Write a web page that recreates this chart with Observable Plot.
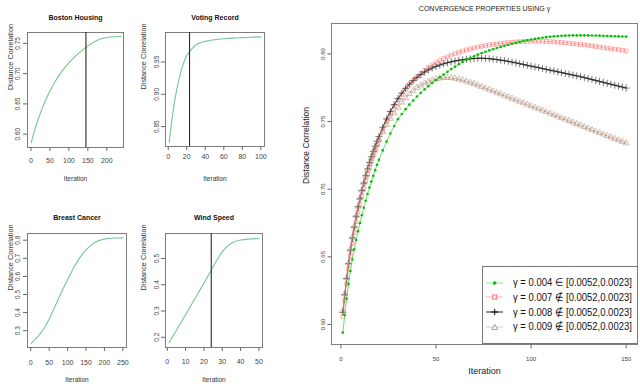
<!DOCTYPE html>
<html><head><meta charset="utf-8">
<script src="https://cdn.jsdelivr.net/npm/d3@7"></script>
<script src="https://cdn.jsdelivr.net/npm/@observablehq/plot@0.6"></script>
<style>
body{margin:0;background:#fff;}
#root{position:relative;width:640px;height:387px;overflow:hidden;font-family:"Liberation Sans",Arial,sans-serif;}
.panel{position:absolute;}
#legend{position:absolute;left:482px;top:266px;width:156px;height:78px;border:1px solid #777;background:#fff;box-sizing:border-box;}
.row{position:absolute;left:1px;height:14px;display:flex;align-items:center;}
.row svg{display:block;}
.row span{font-size:11px;white-space:nowrap;transform:scaleX(.86);transform-origin:left center;color:#111;margin-left:3.5px;}
</style></head><body><div id="root"></div>
<script>
// ---------- small panels ----------
const panelTitles = ["Boston Housing", "Voting Record", "Breast Cancer", "Wind Speed"];
const markedIteration = [145, 23, null, 24];

const bostonIter = [1,10,20,30,40,50,60,70,80,90,100,110,120,130,140,150,160,170,180,190,200,210,220,230,238];
const bostonCorr = [.586,.607,.626,.643,.658,.671,.683,.693,.7025,.7105,.718,.7245,.7305,.736,.741,.7455,.7498,.7535,.7564,.7585,.7598,.7606,.7611,.7613,.7614];

const votingIter = [1,2,3,4,5,6,7,8,9,10,12,14,16,18,20,22,24,26,28,30,35,40,50,60,70,80,90,100];
const votingCorr = [.8255,.838,.850,.861,.871,.881,.890,.898,.906,.913,.926,.937,.946,.954,.960,.964,.968,.971,.974,.9765,.980,.982,.9845,.986,.987,.9877,.9884,.989];

const cancerIter = [1,10,20,30,40,50,60,70,80,90,100,110,120,130,140,150,160,170,180,190,200,210,220,230,240,250];
const cancerCorr = [.229,.248,.270,.295,.327,.365,.408,.453,.498,.541,.582,.622,.660,.694,.722,.746,.766,.782,.794,.801,.806,.809,.811,.812,.8125,.813];

const windIter = [1,4,8,12,16,20,24,27,30,33,36,40,45,50];
const windCorr = [.180,.215,.262,.310,.358,.406,.455,.492,.525,.548,.562,.570,.574,.576];

const xTicksSmall = [[0,50,100,150,200],[0,20,40,60,80,100],[0,50,100,150,200,250],[0,10,20,30,40,50]];
const yTicksSmall = [[.60,.65,.70,.75],[.85,.90,.95],[.3,.4,.5,.6,.7,.8],[.2,.3,.4,.5]];

// ---------- big panel ----------
const bigIterations = [1,2,3,4,5,6,7,8,9,10,11,12,13,14,15,16,17,18,19,20,22,24,26,28,30,32,34,36,38,40,42,44,46,48,50,52,54,56,58,60,62,64,66,68,70,72,74,76,78,80,82,84,86,88,90,92,94,96,98,100,102,104,106,108,110,112,114,116,118,120,122,124,126,128,130,132,134,136,138,140,142,144,146,148,150];
const gamma004 = [.594,.607,.619,.630,.6395,.648,.6555,.6625,.669,.675,.6808,.6863,.6915,.6965,.7012,.7057,.710,.7141,.718,.7217,
 .7287,.7352,.7412,.7467,.7518,.7556,.7592,.7625,.7656,.7685,
 .7712,.7738,.7762,.7785,.7807,.7828,.7848,.7868,.7888,.7906,
 .7924,.7941,.7956,.797,.7983,.7995,.8006,.8016,.8026,.8035,
 .8044,.8052,.806,.8068,.8075,.8082,.8089,.8095,.8101,.8106,
 .8111,.8116,.812,.8124,.8127,.813,.8132,.8134,.8135,.8136,
 .8137,.8137,.8137,.8137,.8137,.8136,.8136,.8135,.8134,.8133,
 .8132,.8131,.813,.8129,.8128];
const gamma007 = [.606,.618,.630,.641,.651,.660,.668,.676,.683,.689,.695,.7005,.706,.711,.7158,.7203,.7246,.7287,.7326,.7363,
 .7435,.7502,.7562,.7616,.766,.7702,.774,.7774,.7804,.7831,
 .7856,.7879,.79,.7919,.7936,.7952,.7966,.7979,.7991,.8002,
 .8012,.8021,.8029,.8037,.8044,.805,.8056,.8061,.8066,.807,
 .8074,.8077,.8081,.8084,.8086,.8088,.809,.8092,.8093,.8094,
 .8095,.8095,.8094,.8093,.8091,.8089,.8087,.8085,.8082,.8079,
 .8076,.8073,.807,.8067,.8063,.8059,.8055,.8051,.8047,.8043,
 .8039,.8035,.8031,.8027,.8023];
const gamma008 = [.609,.622,.634,.645,.655,.664,.672,.680,.687,.693,.699,.7045,.710,.715,.7197,.724,.728,.7318,.7355,.739,
 .7458,.752,.7575,.7625,.767,.771,.7745,.7776,.7803,.7827,
 .7848,.7866,.7882,.7896,.7908,.7918,.7927,.7935,.7942,.7948,
 .7953,.7957,.7961,.7964,.7966,.7968,.7968,.7967,.7965,.7962,
 .7958,.7954,.795,.7945,.794,.7934,.7928,.7922,.7916,.791,
 .7904,.7898,.7892,.7886,.788,.7874,.7868,.7862,.7856,.785,
 .7844,.7838,.7832,.7825,.7818,.7811,.7804,.7797,.779,.7783,
 .7776,.7769,.7762,.7755,.7748];
const gamma009 = [.610,.6225,.6345,.6455,.6555,.6645,.6725,.6802,.6872,.6935,.6992,.7045,.7095,.7142,.7186,.7227,.7265,.7301,.7335,.7366,
 .7424,.7476,.7522,.7563,.7605,.7642,.7675,.7704,.7729,.775,
 .7768,.7783,.7796,.7806,.7814,.782,.7824,.7825,.7823,.7819,
 .7813,.7806,.7798,.7789,.778,.7769,.7758,.7747,.7736,.7725,
 .7714,.7703,.7692,.7681,.767,.7659,.7648,.7637,.7626,.7615,
 .7604,.7593,.7582,.7571,.756,.7549,.7538,.7527,.7516,.7505,
 .7494,.7483,.7472,.7461,.745,.7439,.7428,.7417,.7406,.7395,
 .7384,.7373,.7362,.7351,.734];
const bigXTicks = [0,50,100,150];
const bigYTicks = [.60,.65,.70,.75,.80];
const seriesLabels = ["γ = 0.004 ∈ [0.0052,0.0023]","γ = 0.007 ∉ [0.0052,0.0023]","γ = 0.008 ∉ [0.0052,0.0023]","γ = 0.009 ∉ [0.0052,0.0023]"];

const root = document.getElementById("root");
const FONT = '"Liberation Sans", Arial, sans-serif';
const toRows = (xs, ys) => xs.map((x, i) => ({x, y: ys[i]}));

function place(el, left, top) {
  const d = document.createElement("div");
  d.className = "panel"; d.style.left = left + "px"; d.style.top = top + "px";
  d.appendChild(el); root.appendChild(d);
}

const smallCfg = [
  {iter: bostonIter, corr: bostonCorr, left: 0, top: 0, w: 140, h: 190, m: [32, 17, 43, 27], xd: [-9, 244], yd: [.578, .768], fmt: ".2f", xpad: 6.5, ylab: 17, xlab: 33, tpad: 4, tdy: -17},
  {iter: votingIter, corr: votingCorr, left: 140, top: 0, w: 135, h: 190, m: [32, 11, 44, 25], xd: [-2.96, 103.96], yd: [.8192, .9957], fmt: ".2f", xpad: 3.5, ylab: 22, xlab: 34, tpad: 3, tdy: -17},
  {iter: cancerIter, corr: cancerCorr, left: 0, top: 190, w: 140, h: 197, m: [43, 14, 40, 27], xd: [-8.96, 259.96], yd: [.207, .837], fmt: ".1f", xpad: 9, ylab: 17, xlab: 34, tpad: 4, tdy: -18},
  {iter: windIter, corr: windCorr, left: 140, top: 190, w: 135, h: 197, m: [43, 13, 40, 25], xd: [-0.96, 51.96], yd: [.161, .595], fmt: ".1f", xpad: 8, ylab: 22, xlab: 34, tpad: 3, tdy: -18}
];

smallCfg.forEach((c, i) => {
  const marks = [
    Plot.frame({stroke: "#707070", strokeWidth: 0.9}),
    Plot.axisX({ticks: xTicksSmall[i], tickSize: 4, tickPadding: c.xpad, fontSize: 7, label: null, stroke: "#666"}),
    Plot.axisY({ticks: yTicksSmall[i], tickFormat: d3.format(c.fmt), tickSize: 4, tickPadding: c.tpad, tickRotate: -90, textAnchor: "middle", lineAnchor: "bottom", fontSize: 6.5, label: null, stroke: "#666"}),
    Plot.line(toRows(c.iter, c.corr), {x: "x", y: "y", stroke: "#74c88e", strokeWidth: 1.1, curve: "monotone-x"}),
    Plot.text([panelTitles[i]], {text: d => d, frameAnchor: "top", dy: c.tdy, fontWeight: "bold", fontSize: 7, fill: "#111"}),
    Plot.text(["Iteration"], {text: d => d, frameAnchor: "bottom", dy: c.xlab, fontSize: 6.5, fill: "#333"}),
    Plot.text(["Distance Correlation"], {text: d => d, frameAnchor: "left", dx: -c.ylab, rotate: -90, fontSize: 7.3, fill: "#333"})
  ];
  if (markedIteration[i] != null) marks.push(Plot.ruleX([markedIteration[i]], {stroke: "#2a2a2a", strokeWidth: 1.1}));
  const p = Plot.plot({
    width: c.w, height: c.h, marginTop: c.m[0], marginRight: c.m[1], marginBottom: c.m[2], marginLeft: c.m[3],
    x: {domain: c.xd}, y: {domain: c.yd},
    style: {fontFamily: FONT, color: "#444", background: "transparent", overflow: "visible"},
    marks
  });
  place(p, c.left, c.top);
});

// big panel
const bigStyles = [
  {vals: gamma007, line: "#ff9a9a", stroke: "#ff6464", fill: "none", symbol: "square", r: 2.1, op: 0.6, sw: 0.8},
  {vals: gamma008, line: "#111", stroke: "#222", fill: "none", symbol: "plus", r: 2.4, op: 0.75, sw: 0.8},
  {vals: gamma009, line: "#c6a896", stroke: "#a8846c", fill: "none", symbol: "triangle", r: 2.2, op: 0.65, sw: 0.8},
  {vals: gamma004, line: "#44d844", stroke: "none", fill: "#00c000", symbol: "circle", r: 1.3, op: 1, sw: 0}
];
const bigMarks = [
  Plot.frame({stroke: "#808080", strokeWidth: 1}),
  Plot.axisX({ticks: bigXTicks, tickSize: 4.5, tickPadding: 7.5, fontSize: 6, label: null, stroke: "#666"}),
  Plot.axisY({ticks: bigYTicks, tickFormat: d3.format(".2f"), tickSize: 3.5, tickPadding: 3, tickRotate: -90, textAnchor: "middle", lineAnchor: "bottom", fontSize: 6, label: null, stroke: "#666"})
];
bigStyles.forEach(s => {
  const rows = toRows(bigIterations, s.vals);
  bigMarks.push(Plot.line(rows, {x: "x", y: "y", stroke: s.line, strokeWidth: 0.8}));
  bigMarks.push(Plot.dot(rows, {x: "x", y: "y", symbol: s.symbol, r: s.r, stroke: s.stroke, fill: s.fill, strokeWidth: s.sw, opacity: s.op}));
});
bigMarks.push(
  Plot.text(["CONVERGENCE PROPERTIES USING γ"], {text: d => d, frameAnchor: "top", dy: -17.5, fontSize: 7, fill: "#222"}),
  Plot.text(["Iteration"], {text: d => d, frameAnchor: "bottom", dy: 29, fontSize: 9, fill: "#222"}),
  Plot.text(["Distance Correlation"], {text: d => d, frameAnchor: "left", dx: -25.5, rotate: -90, fontSize: 8.5, fill: "#222"})
);
const big = Plot.plot({
  width: 350, height: 387, marginTop: 23, marginRight: 3, marginBottom: 43, marginLeft: 41,
  x: {domain: [-4.96, 155.96]}, y: {domain: [0.5852, 0.8225]},
  style: {fontFamily: FONT, color: "#444", background: "transparent", overflow: "visible"},
  marks: bigMarks
});
place(big, 290, 0);

// legend
const legendSwatches = [
  '<line x1="2" y1="6" x2="19" y2="6" stroke="#8fe88f"/><circle cx="10.7" cy="6" r="1.8" fill="#00c000"/>',
  '<line x1="2" y1="6" x2="19" y2="6" stroke="#ffb0b0"/><rect x="8.7" y="4" width="4" height="4" fill="#fff" stroke="#ff6a6a"/>',
  '<line x1="2" y1="6" x2="19" y2="6" stroke="#222"/><path d="M10.7 2.8V9.2M7.5 6H13.9" stroke="#000"/>',
  '<line x1="2" y1="6" x2="19" y2="6" stroke="#dcc8ba"/><path d="M10.7 3.2L13.6 8.6H7.8Z" fill="#fff" stroke="#b89a88"/>'
];
const legend = document.createElement("div");
legend.id = "legend";
seriesLabels.forEach((lab, i) => {
  const row = document.createElement("div");
  row.className = "row";
  row.style.top = (8.5 + i * 14.8) + "px";
  row.innerHTML = '<svg width="25" height="12">' + legendSwatches[i] + '</svg><span>' + lab + '</span>';
  legend.appendChild(row);
});
root.appendChild(legend);
</script></body></html>
